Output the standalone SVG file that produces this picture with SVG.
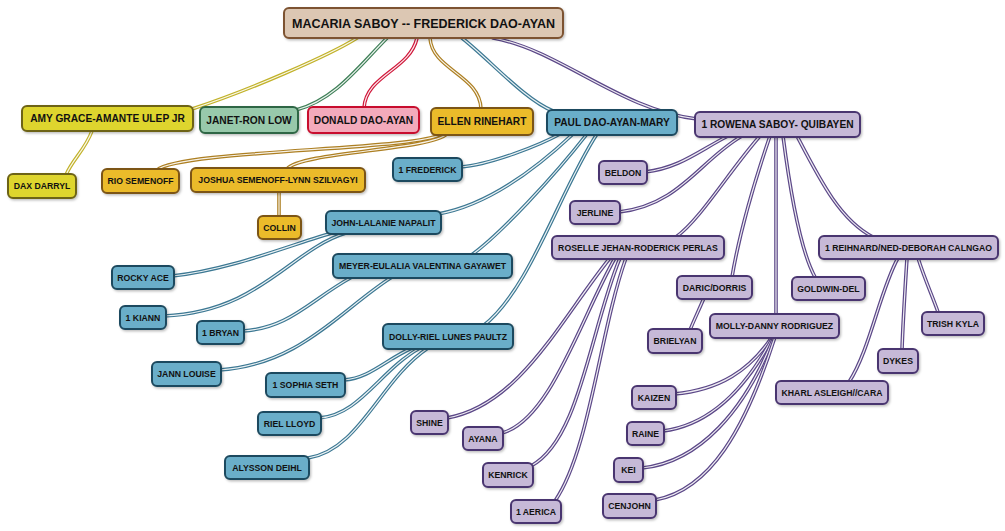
<svg xmlns="http://www.w3.org/2000/svg" xmlns:xlink="http://www.w3.org/1999/xlink" width="1005" height="531" viewBox="0 0 1005 531">
<defs>
<filter id="sh" x="-10%" y="-20%" width="130%" height="160%">
<feDropShadow dx="1.2" dy="1.5" stdDeviation="0.8" flood-color="#000" flood-opacity="0.25"/>
</filter>
<style>
text{font-family:"Liberation Sans",Arial,sans-serif;font-weight:bold;fill:#111;text-anchor:middle;dominant-baseline:central}
.n rect{stroke-width:2;filter:url(#sh)}
.t0{font-size:12.5px}
.t1{font-size:10.2px}
.t2{font-size:8.7px}
.root rect{fill:#dcc7b3;stroke:#7d5330}
.yel rect{fill:#ded52f;stroke:#6d6316}
.grn rect{fill:#98c9ab;stroke:#2e6644}
.red rect{fill:#f3aabb;stroke:#c8102e}
.org rect{fill:#ebbb2b;stroke:#7b5414}
.blu rect{fill:#6aaec9;stroke:#1f4a5e}
.pur rect{fill:#c6b9d7;stroke:#4a356f}
.c path{fill:none;stroke-linecap:round}
.o{stroke-width:3.6}
.i{stroke:#fff;stroke-width:1.2;stroke-opacity:0.9}
.cy .o{stroke:#c2b22a}
.cg .o{stroke:#3f8058}
.cr .o{stroke:#d0173a}
.co .o{stroke:#ad7f22}
.cb .o{stroke:#3c7893}
.cp .o{stroke:#5c4888}
</style>
</defs>
<g id="connectors" class="c">
<g class="cy">
<path class="o" d="M357,38 C330,55 250,90 192,109"/><path class="i" d="M357,38 C330,55 250,90 192,109"/>
<path class="o" d="M92,131 C85,150 72,160 66,175"/><path class="i" d="M92,131 C85,150 72,160 66,175"/>
</g>
<g class="cg">
<path class="o" d="M387,38 C360,65 335,100 296,110"/><path class="i" d="M387,38 C360,65 335,100 296,110"/>
</g>
<g class="cr">
<path class="o" d="M417,38 C410,70 366,75 364,108"/><path class="i" d="M417,38 C410,70 366,75 364,108"/>
</g>
<g class="co">
<path class="o" d="M430,38 C432,70 480,75 481,109"/><path class="i" d="M430,38 C432,70 480,75 481,109"/>
<path class="o" d="M441,134 C420,150 180,150 157,170"/><path class="i" d="M441,134 C420,150 180,150 157,170"/>
<path class="o" d="M447,134 C430,150 300,152 287,169"/><path class="i" d="M447,134 C430,150 300,152 287,169"/>
<path class="o" d="M279,191 L279,217"/><path class="i" d="M279,191 L279,217"/>
</g>
<g class="cb">
<path class="o" d="M462,38 C490,60 525,100 553,111"/><path class="i" d="M462,38 C490,60 525,100 553,111"/>
<path class="o" d="M560,134 C540,145 490,165 460,167"/><path class="i" d="M560,134 C540,145 490,165 460,167"/>
<path class="o" d="M573,134 C540,165 490,205 438,214"/><path class="i" d="M573,134 C540,165 490,205 438,214"/>
<path class="o" d="M587,134 C555,175 500,235 470,256"/><path class="i" d="M587,134 C555,175 500,235 470,256"/>
<path class="o" d="M597,134 C560,190 530,290 483,326"/><path class="i" d="M597,134 C560,190 530,290 483,326"/>
<path class="o" d="M335,232 C290,245 230,270 172,276"/><path class="i" d="M335,232 C290,245 230,270 172,276"/>
<path class="o" d="M346,233 C290,250 260,312 164,316"/><path class="i" d="M346,233 C290,250 260,312 164,316"/>
<path class="o" d="M352,277 C310,300 290,328 243,331"/><path class="i" d="M352,277 C310,300 290,328 243,331"/>
<path class="o" d="M392,277 C340,310 300,365 219,370"/><path class="i" d="M392,277 C340,310 300,365 219,370"/>
<path class="o" d="M412,348 C385,360 370,378 344,380"/><path class="i" d="M412,348 C385,360 370,378 344,380"/>
<path class="o" d="M420,348 C380,370 360,415 319,418"/><path class="i" d="M420,348 C380,370 360,415 319,418"/>
<path class="o" d="M428,348 C380,380 360,450 308,458"/><path class="i" d="M428,348 C380,380 360,450 308,458"/>
</g>
<g class="cp">
<path class="o" d="M493,38 C560,50 620,110 697,119"/><path class="i" d="M493,38 C560,50 620,110 697,119"/>
<path class="o" d="M728,136 C700,150 680,168 645,172"/><path class="i" d="M728,136 C700,150 680,168 645,172"/>
<path class="o" d="M742,136 C700,160 680,205 619,212"/><path class="i" d="M742,136 C700,160 680,205 619,212"/>
<path class="o" d="M760,136 C730,170 700,220 676,237"/><path class="i" d="M760,136 C730,170 700,220 676,237"/>
<path class="o" d="M770,136 C755,180 740,230 732,277"/><path class="i" d="M770,136 C755,180 740,230 732,277"/>
<path class="o" d="M776,136 L776,315"/><path class="i" d="M776,136 L776,315"/>
<path class="o" d="M783,136 C790,190 800,250 815,277"/><path class="i" d="M783,136 C790,190 800,250 815,277"/>
<path class="o" d="M797,136 C820,180 840,220 873,237"/><path class="i" d="M797,136 C820,180 840,220 873,237"/>
<path class="o" d="M704,298 C698,312 694,320 690,330"/><path class="i" d="M704,298 C698,312 694,320 690,330"/>
<path class="o" d="M610,258 C560,320 520,405 447,418"/><path class="i" d="M610,258 C560,320 520,405 447,418"/>
<path class="o" d="M615,258 C580,320 550,420 502,433"/><path class="i" d="M615,258 C580,320 550,420 502,433"/>
<path class="o" d="M620,258 C590,330 580,440 531,466"/><path class="i" d="M620,258 C590,330 580,440 531,466"/>
<path class="o" d="M626,258 C600,330 590,450 555,501"/><path class="i" d="M626,258 C600,330 590,450 555,501"/>
<path class="o" d="M772,337 C750,370 720,390 674,394"/><path class="i" d="M772,337 C750,370 720,390 674,394"/>
<path class="o" d="M773,337 C745,390 710,425 663,431"/><path class="i" d="M773,337 C745,390 710,425 663,431"/>
<path class="o" d="M774,337 C745,410 700,462 642,468"/><path class="i" d="M774,337 C745,410 700,462 642,468"/>
<path class="o" d="M775,337 C745,430 710,490 655,500"/><path class="i" d="M775,337 C745,430 710,490 655,500"/>
<path class="o" d="M898,258 C880,290 870,350 849,382"/><path class="i" d="M898,258 C880,290 870,350 849,382"/>
<path class="o" d="M907,258 C905,290 903,320 902,350"/><path class="i" d="M907,258 C905,290 903,320 902,350"/>
<path class="o" d="M918,258 C925,280 932,295 938,312"/><path class="i" d="M918,258 C925,280 932,295 938,312"/>
</g>
</g>
<g id="n-root" class="n root"><rect x="284" y="8" width="279" height="30" rx="5"/><text class="t0" x="423.5" y="23.5">MACARIA SABOY -- FREDERICK DAO-AYAN</text></g>
<g id="n-amy" class="n yel"><rect x="22" y="106" width="171" height="25" rx="5"/><text class="t1" x="107.5" y="118.5">AMY GRACE-AMANTE ULEP JR</text></g>
<g id="n-janet" class="n grn"><rect x="200" y="107" width="98" height="26" rx="5"/><text class="t1" x="249" y="120">JANET-RON LOW</text></g>
<g id="n-donald" class="n red"><rect x="308" y="107" width="111" height="26" rx="5"/><text class="t1" x="363.5" y="120">DONALD DAO-AYAN</text></g>
<g id="n-ellen" class="n org"><rect x="431" y="108" width="102" height="27" rx="5"/><text class="t1" x="482" y="121.5">ELLEN RINEHART</text></g>
<g id="n-paul" class="n blu"><rect x="547" y="110" width="130" height="25" rx="5"/><text class="t1" x="612" y="122.5">PAUL DAO-AYAN-MARY</text></g>
<g id="n-rowena" class="n pur"><rect x="695" y="112" width="165" height="25" rx="5"/><text class="t1" x="777.5" y="124.5">1 ROWENA SABOY- QUIBAYEN</text></g>
<g id="n-dax" class="n yel"><rect x="8" y="174" width="68" height="24" rx="5"/><text class="t2" x="42" y="186">DAX DARRYL</text></g>
<g id="n-rio" class="n org"><rect x="102" y="169" width="77" height="24" rx="5"/><text class="t2" x="140.5" y="181">RIO SEMENOFF</text></g>
<g id="n-joshua" class="n org"><rect x="191" y="168" width="174" height="24" rx="5"/><text class="t2" x="278" y="180">JOSHUA SEMENOFF-LYNN SZILVAGYI</text></g>
<g id="n-collin" class="n org"><rect x="258" y="216" width="43" height="23" rx="5"/><text class="t2" x="279.5" y="227.5">COLLIN</text></g>
<g id="n-frederick" class="n blu"><rect x="393" y="158" width="69" height="23" rx="5"/><text class="t2" x="427.5" y="169.5">1 FREDERICK</text></g>
<g id="n-john" class="n blu"><rect x="326" y="211" width="115" height="23" rx="5"/><text class="t2" x="383.5" y="222.5">JOHN-LALANIE NAPALIT</text></g>
<g id="n-meyer" class="n blu"><rect x="333" y="254" width="179" height="24" rx="5"/><text class="t2" x="422.5" y="266">MEYER-EULALIA VALENTINA GAYAWET</text></g>
<g id="n-rocky" class="n blu"><rect x="112" y="266" width="62" height="23" rx="5"/><text class="t2" x="143" y="277.5">ROCKY ACE</text></g>
<g id="n-kiann" class="n blu"><rect x="120" y="306" width="46" height="23" rx="5"/><text class="t2" x="143" y="317.5">1 KIANN</text></g>
<g id="n-bryan" class="n blu"><rect x="197" y="321" width="47" height="23" rx="5"/><text class="t2" x="220.5" y="332.5">1 BRYAN</text></g>
<g id="n-jann" class="n blu"><rect x="152" y="362" width="69" height="24" rx="5"/><text class="t2" x="186.5" y="374">JANN LOUISE</text></g>
<g id="n-dolly" class="n blu"><rect x="383" y="324" width="130" height="25" rx="5"/><text class="t2" x="448" y="336.5">DOLLY-RIEL LUNES PAULTZ</text></g>
<g id="n-sophia" class="n blu"><rect x="266" y="373" width="79" height="24" rx="5"/><text class="t2" x="305.5" y="385">1 SOPHIA SETH</text></g>
<g id="n-riel" class="n blu"><rect x="258" y="412" width="63" height="23" rx="5"/><text class="t2" x="289.5" y="423.5">RIEL LLOYD</text></g>
<g id="n-alysson" class="n blu"><rect x="225" y="456" width="84" height="23" rx="5"/><text class="t2" x="267" y="467.5">ALYSSON DEIHL</text></g>
<g id="n-beldon" class="n pur"><rect x="599" y="161" width="48" height="23" rx="5"/><text class="t2" x="623" y="172.5">BELDON</text></g>
<g id="n-jerline" class="n pur"><rect x="570" y="201" width="50" height="23" rx="5"/><text class="t2" x="595" y="212.5">JERLINE</text></g>
<g id="n-roselle" class="n pur"><rect x="552" y="236" width="172" height="23" rx="5"/><text class="t2" x="638" y="247.5">ROSELLE JEHAN-RODERICK PERLAS</text></g>
<g id="n-reihnard" class="n pur"><rect x="819" y="236" width="179" height="23" rx="5"/><text class="t2" x="908.5" y="247.5">1 REIHNARD/NED-DEBORAH CALNGAO</text></g>
<g id="n-daric" class="n pur"><rect x="677" y="276" width="75" height="23" rx="5"/><text class="t2" x="714.5" y="287.5">DARIC/DORRIS</text></g>
<g id="n-goldwin" class="n pur"><rect x="792" y="277" width="73" height="23" rx="5"/><text class="t2" x="828.5" y="288.5">GOLDWIN-DEL</text></g>
<g id="n-brielyan" class="n pur"><rect x="648" y="329" width="54" height="24" rx="5"/><text class="t2" x="675" y="341">BRIELYAN</text></g>
<g id="n-molly" class="n pur"><rect x="710" y="314" width="129" height="24" rx="5"/><text class="t2" x="774.5" y="326">MOLLY-DANNY RODRIGUEZ</text></g>
<g id="n-kaizen" class="n pur"><rect x="632" y="386" width="44" height="23" rx="5"/><text class="t2" x="654" y="397.5">KAIZEN</text></g>
<g id="n-raine" class="n pur"><rect x="627" y="422" width="37" height="23" rx="5"/><text class="t2" x="645.5" y="433.5">RAINE</text></g>
<g id="n-kei" class="n pur"><rect x="614" y="458" width="29" height="24" rx="5"/><text class="t2" x="628.5" y="470">KEI</text></g>
<g id="n-cenjohn" class="n pur"><rect x="603" y="494" width="53" height="24" rx="5"/><text class="t2" x="629.5" y="506">CENJOHN</text></g>
<g id="n-shine" class="n pur"><rect x="411" y="411" width="37" height="23" rx="5"/><text class="t2" x="429.5" y="422.5">SHINE</text></g>
<g id="n-ayana" class="n pur"><rect x="463" y="427" width="40" height="23" rx="5"/><text class="t2" x="483" y="438.5">AYANA</text></g>
<g id="n-kenrick" class="n pur"><rect x="483" y="463" width="50" height="24" rx="5"/><text class="t2" x="508" y="475">KENRICK</text></g>
<g id="n-aerica" class="n pur"><rect x="511" y="500" width="50" height="23" rx="5"/><text class="t2" x="536" y="511.5">1 AERICA</text></g>
<g id="n-kharl" class="n pur"><rect x="776" y="381" width="112" height="23" rx="5"/><text class="t2" x="832" y="392.5">KHARL ASLEIGH//CARA</text></g>
<g id="n-dykes" class="n pur"><rect x="878" y="349" width="40" height="24" rx="5"/><text class="t2" x="898" y="361">DYKES</text></g>
<g id="n-trish" class="n pur"><rect x="922" y="312" width="62" height="23" rx="5"/><text class="t2" x="953" y="323.5">TRISH KYLA</text></g>
</svg>
